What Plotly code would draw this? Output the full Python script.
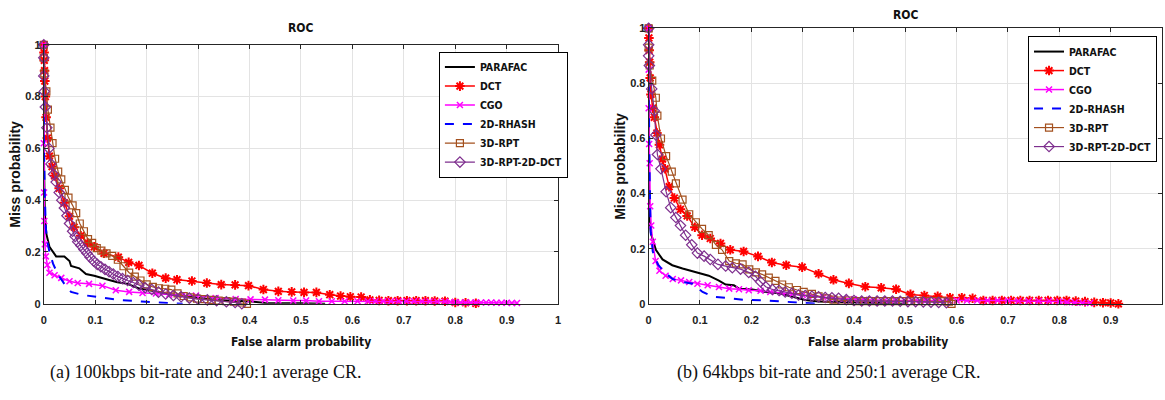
import plotly.graph_objects as go

# ---------------- data: panel (a) ----------------
a_parafac_x = [0, 0, 0.002, 0.005, 0.011, 0.024, 0.04, 0.05, 0.053, 0.069, 0.082, 0.098, 0.127, 0.143, 0.163, 0.185, 0.211, 0.243, 0.282, 0.334, 0.405, 0.43, 0.5, 0.547]
a_parafac_y = [1, 0.6, 0.35, 0.27, 0.22, 0.183, 0.183, 0.165, 0.146, 0.137, 0.115, 0.108, 0.092, 0.083, 0.077, 0.059, 0.05, 0.037, 0.027, 0.015, 0.009, 0.003, 0.002, 0]

a_dct_x = [0, 0.0005, 0.001, 0.0015, 0.002, 0.003, 0.0045, 0.007, 0.011, 0.016, 0.021, 0.030, 0.040, 0.050, 0.059, 0.072, 0.085, 0.098, 0.117, 0.145, 0.165, 0.185, 0.211, 0.237, 0.259, 0.288, 0.317, 0.345, 0.372, 0.398, 0.427, 0.456, 0.482, 0.506, 0.53, 0.556, 0.577, 0.596, 0.617, 0.634, 0.652, 0.67, 0.688, 0.706, 0.724, 0.742, 0.76, 0.78, 0.80, 0.82, 0.84]
a_dct_y = [1, 0.97, 0.94, 0.9, 0.86, 0.8, 0.72, 0.64, 0.57, 0.53, 0.494, 0.446, 0.39, 0.338, 0.296, 0.263, 0.235, 0.22, 0.195, 0.18, 0.16, 0.148, 0.118, 0.099, 0.093, 0.088, 0.08, 0.074, 0.073, 0.07, 0.055, 0.048, 0.046, 0.044, 0.044, 0.035, 0.03, 0.027, 0.026, 0.015, 0.013, 0.012, 0.012, 0.012, 0.012, 0.012, 0.011, 0.01, 0.005, 0.004, 0.002]

a_cgo_x = [0, 0, 0.0005, 0.001, 0.002, 0.004, 0.007, 0.011, 0.021, 0.034, 0.05, 0.066, 0.088, 0.114, 0.14, 0.166, 0.192, 0.218, 0.244, 0.27, 0.296, 0.334, 0.373, 0.402, 0.43, 0.456, 0.485, 0.51, 0.535, 0.56, 0.585, 0.61, 0.63, 0.645, 0.66, 0.675, 0.69, 0.705, 0.72, 0.735, 0.75, 0.765, 0.78, 0.79, 0.80, 0.81, 0.82, 0.83, 0.84, 0.85, 0.86, 0.87, 0.88, 0.89, 0.90, 0.91, 0.92]
a_cgo_y = [1, 0.62, 0.43, 0.32, 0.23, 0.183, 0.15, 0.12, 0.11, 0.10, 0.087, 0.08, 0.077, 0.07, 0.052, 0.046, 0.042, 0.04, 0.036, 0.033, 0.032, 0.022, 0.018, 0.017, 0.016, 0.014, 0.013, 0.013, 0.01, 0.01, 0.01, 0.01, 0.01, 0.01, 0.01, 0.01, 0.01, 0.01, 0.01, 0.009, 0.009, 0.008, 0.008, 0.007, 0.006, 0.005, 0.005, 0.005, 0.005, 0.005, 0.005, 0.005, 0.004, 0.004, 0.004, 0.003, 0.003]

a_rhash_x = [0, 0, 0.002, 0.004, 0.007, 0.011, 0.018, 0.027, 0.04, 0.053, 0.075, 0.1, 0.146, 0.19, 0.23, 0.25, 0.27]
a_rhash_y = [1, 0.65, 0.42, 0.29, 0.24, 0.2, 0.155, 0.115, 0.077, 0.046, 0.034, 0.027, 0.015, 0.009, 0.005, 0.002, 0]

a_rpt_x = [0, 0, 0.001, 0.005, 0.008, 0.013, 0.017, 0.022, 0.028, 0.034, 0.041, 0.048, 0.056, 0.063, 0.07, 0.078, 0.086, 0.094, 0.103, 0.112, 0.122, 0.133, 0.144, 0.155, 0.166, 0.177, 0.188, 0.2, 0.212, 0.224, 0.236, 0.248, 0.26, 0.272, 0.285, 0.298, 0.312, 0.326, 0.34, 0.355, 0.37, 0.385, 0.395]
a_rpt_y = [1, 0.95, 0.89, 0.82, 0.75, 0.68, 0.62, 0.56, 0.51, 0.48, 0.44, 0.41, 0.38, 0.35, 0.31, 0.28, 0.25, 0.235, 0.215, 0.205, 0.195, 0.185, 0.17, 0.145, 0.12, 0.105, 0.09, 0.075, 0.065, 0.06, 0.058, 0.055, 0.04, 0.03, 0.025, 0.02, 0.018, 0.015, 0.012, 0.01, 0.008, 0.005, 0.0]

a_rptdct_x = [0, 0, 0, 0.001, 0.003, 0.006, 0.01, 0.014, 0.019, 0.024, 0.03, 0.035, 0.04, 0.045, 0.05, 0.056, 0.061, 0.066, 0.072, 0.078, 0.084, 0.09, 0.097, 0.104, 0.111, 0.119, 0.127, 0.135, 0.144, 0.153, 0.163, 0.174, 0.185, 0.197, 0.21, 0.223, 0.237, 0.252, 0.267, 0.283, 0.3, 0.318, 0.336, 0.355, 0.372, 0.385]
a_rptdct_y = [1, 0.95, 0.88, 0.82, 0.76, 0.68, 0.6, 0.54, 0.5, 0.47, 0.43, 0.4, 0.37, 0.34, 0.31, 0.28, 0.26, 0.24, 0.225, 0.21, 0.195, 0.18, 0.165, 0.152, 0.143, 0.133, 0.124, 0.115, 0.105, 0.097, 0.09, 0.082, 0.072, 0.062, 0.055, 0.045, 0.038, 0.032, 0.027, 0.022, 0.018, 0.015, 0.012, 0.008, 0.005, 0.0]

# ---------------- data: panel (b) ----------------
b_parafac_x = [0, 0, 0.001, 0.0045, 0.014, 0.027, 0.046, 0.066, 0.092, 0.117, 0.136, 0.15, 0.166, 0.176, 0.202, 0.228, 0.254, 0.28, 0.305, 0.331, 0.38, 0.43, 0.5]
b_parafac_y = [1, 0.6, 0.32, 0.255, 0.196, 0.161, 0.14, 0.128, 0.114, 0.102, 0.085, 0.07, 0.067, 0.055, 0.052, 0.043, 0.038, 0.026, 0.014, 0.008, 0.005, 0.003, 0]

b_dct_x = [0, 0.0005, 0.001, 0.002, 0.003, 0.0045, 0.008, 0.011, 0.016, 0.021, 0.027, 0.032, 0.04, 0.05, 0.062, 0.075, 0.09, 0.104, 0.12, 0.14, 0.159, 0.185, 0.213, 0.24, 0.268, 0.299, 0.331, 0.36, 0.39, 0.422, 0.453, 0.482, 0.51, 0.537, 0.563, 0.587, 0.61, 0.631, 0.652, 0.67, 0.688, 0.706, 0.724, 0.742, 0.76, 0.778, 0.796, 0.814, 0.832, 0.85, 0.868, 0.885, 0.9, 0.915]
b_dct_y = [1, 0.965, 0.92, 0.877, 0.82, 0.76, 0.71, 0.677, 0.62, 0.577, 0.525, 0.49, 0.425, 0.384, 0.343, 0.319, 0.278, 0.249, 0.237, 0.219, 0.196, 0.19, 0.172, 0.15, 0.14, 0.133, 0.109, 0.087, 0.074, 0.062, 0.058, 0.053, 0.034, 0.03, 0.027, 0.022, 0.022, 0.02, 0.012, 0.012, 0.012, 0.012, 0.012, 0.012, 0.012, 0.012, 0.012, 0.012, 0.01, 0.008, 0.005, 0.004, 0.003, 0.0]

b_cgo_x = [0, 0, 0, 0.001, 0.002, 0.003, 0.005, 0.008, 0.0135, 0.021, 0.033, 0.047, 0.063, 0.079, 0.095, 0.115, 0.137, 0.157, 0.176, 0.195, 0.218, 0.237, 0.26, 0.28, 0.3, 0.32, 0.34, 0.36, 0.38, 0.4, 0.42, 0.44, 0.46, 0.48, 0.5, 0.52, 0.54, 0.56, 0.58, 0.6, 0.62, 0.64, 0.66, 0.68, 0.70, 0.72, 0.74, 0.76, 0.78, 0.8, 0.815, 0.83, 0.845, 0.86]
b_cgo_y = [1, 0.85, 0.71, 0.58, 0.51, 0.354, 0.284, 0.225, 0.155, 0.12, 0.102, 0.09, 0.085, 0.079, 0.073, 0.067, 0.061, 0.055, 0.053, 0.049, 0.047, 0.043, 0.04, 0.036, 0.032, 0.028, 0.024, 0.02, 0.018, 0.016, 0.015, 0.014, 0.013, 0.013, 0.012, 0.012, 0.012, 0.012, 0.012, 0.012, 0.012, 0.012, 0.012, 0.012, 0.012, 0.01, 0.01, 0.01, 0.01, 0.008, 0.006, 0.005, 0.004, 0.003]

b_rhash_x = [0, 0, 0.002, 0.004, 0.008, 0.018, 0.031, 0.047, 0.066, 0.086, 0.105, 0.125, 0.157, 0.189, 0.228, 0.266, 0.299, 0.33]
b_rhash_y = [1, 0.8, 0.45, 0.26, 0.19, 0.143, 0.114, 0.09, 0.079, 0.073, 0.043, 0.026, 0.02, 0.014, 0.012, 0.008, 0.002, 0]

b_rpt_x = [0, 0, 0.002, 0.007, 0.014, 0.017, 0.024, 0.034, 0.045, 0.053, 0.066, 0.079, 0.092, 0.104, 0.117, 0.131, 0.143, 0.157, 0.17, 0.183, 0.196, 0.209, 0.221, 0.234, 0.247, 0.26, 0.273, 0.289, 0.302, 0.318, 0.331, 0.347, 0.36, 0.375, 0.39, 0.405, 0.42, 0.435, 0.45, 0.465, 0.48, 0.495, 0.51, 0.525, 0.54, 0.555, 0.57, 0.585, 0.59]
b_rpt_y = [1, 0.93, 0.865, 0.81, 0.748, 0.683, 0.6, 0.536, 0.48, 0.437, 0.378, 0.325, 0.296, 0.272, 0.249, 0.214, 0.196, 0.155, 0.147, 0.143, 0.125, 0.114, 0.107, 0.095, 0.083, 0.07, 0.06, 0.05, 0.043, 0.036, 0.027, 0.02, 0.015, 0.012, 0.012, 0.01, 0.01, 0.01, 0.01, 0.01, 0.01, 0.01, 0.01, 0.01, 0.01, 0.01, 0.01, 0.008, 0.0]

b_rptdct_x = [0, 0, 0, 0.0013, 0.006, 0.011, 0.014, 0.017, 0.024, 0.034, 0.043, 0.053, 0.062, 0.072, 0.084, 0.095, 0.108, 0.12, 0.135, 0.15, 0.163, 0.179, 0.195, 0.208, 0.218, 0.228, 0.241, 0.254, 0.266, 0.279, 0.292, 0.305, 0.318, 0.331, 0.344, 0.357, 0.37, 0.385, 0.4, 0.415, 0.43, 0.445, 0.46, 0.475, 0.49, 0.505, 0.52, 0.535, 0.55, 0.565, 0.58]
b_rptdct_y = [1, 0.94, 0.9, 0.865, 0.78, 0.70, 0.613, 0.542, 0.49, 0.407, 0.349, 0.313, 0.284, 0.249, 0.214, 0.184, 0.173, 0.161, 0.143, 0.137, 0.131, 0.126, 0.114, 0.1, 0.08, 0.062, 0.052, 0.048, 0.043, 0.038, 0.032, 0.03, 0.027, 0.025, 0.023, 0.022, 0.02, 0.015, 0.012, 0.01, 0.01, 0.01, 0.01, 0.01, 0.009, 0.008, 0.008, 0.007, 0.006, 0.005, 0.004]

series_names = ["PARAFAC", "DCT", "CGO", "2D-RHASH", "3D-RPT", "3D-RPT-2D-DCT"]
tick_x = [0, 0.1, 0.2, 0.3, 0.4, 0.5, 0.6, 0.7, 0.8, 0.9, 1]
tick_y = [0, 0.2, 0.4, 0.6, 0.8, 1]
title_text = "ROC"
xlabel_text = "False alarm probability"
ylabel_text = "Miss probability"
caption_a = "(a) 100kbps bit-rate and 240:1 average CR."
caption_b = "(b) 64kbps bit-rate and 250:1 average CR."

# ---------------- styles ----------------
NARROW = "DejaVu Sans Condensed, Liberation Sans Narrow, Arial Narrow, Liberation Sans, Arial, sans-serif"
WIDE = "Liberation Sans, Arial, sans-serif"
SERIF = "Liberation Serif, Times New Roman, serif"

styles = [
    dict(mode="lines", line=dict(color="#000000", width=2)),
    dict(mode="lines+markers", line=dict(color="#FF0000", width=1.5),
         marker=dict(symbol="asterisk-open", size=8, color="#FF0000", line=dict(color="#FF0000", width=2))),
    dict(mode="lines+markers", line=dict(color="#FF00FF", width=1.5),
         marker=dict(symbol="x-thin-open", size=6, color="#FF00FF", line=dict(color="#FF00FF", width=1.5))),
    dict(mode="lines", line=dict(color="#0000FF", width=2, dash="dash")),
    dict(mode="lines+markers", line=dict(color="#A3501E", width=1.2),
         marker=dict(symbol="square-open", size=7, color="#A3501E", line=dict(color="#A3501E", width=1.2))),
    dict(mode="lines+markers", line=dict(color="#7E2F8E", width=1.2),
         marker=dict(symbol="diamond-open", size=8, color="#7E2F8E", line=dict(color="#7E2F8E", width=1.2))),
]

panel_a = [(a_parafac_x, a_parafac_y), (a_dct_x, a_dct_y), (a_cgo_x, a_cgo_y),
           (a_rhash_x, a_rhash_y), (a_rpt_x, a_rpt_y), (a_rptdct_x, a_rptdct_y)]
panel_b = [(b_parafac_x, b_parafac_y), (b_dct_x, b_dct_y), (b_cgo_x, b_cgo_y),
           (b_rhash_x, b_rhash_y), (b_rpt_x, b_rpt_y), (b_rptdct_x, b_rptdct_y)]

fig = go.Figure()
for (xs, ys), name, st in zip(panel_a, series_names, styles):
    fig.add_trace(go.Scatter(x=xs, y=ys, name=name, xaxis="x", yaxis="y",
                             legend="legend", cliponaxis=False, **st))
for (xs, ys), name, st in zip(panel_b, series_names, styles):
    fig.add_trace(go.Scatter(x=xs, y=ys, name=name, xaxis="x2", yaxis="y2",
                             legend="legend2", cliponaxis=False, **st))

W, H = 1165, 400
def px_x(p): return p / W
def px_y(p): return 1 - p / H

tickfont = dict(family=WIDE, size=11, color="#222222", weight="bold")
ax_common = dict(range=[0, 1], showline=True, mirror="ticks", linecolor="#262626", linewidth=1,
                 ticks="inside", ticklen=4, tickcolor="#262626", showgrid=True, gridcolor="#e3e3e3",
                 gridwidth=1, zeroline=False, tickfont=tickfont, fixedrange=True)

legend_font = dict(family=NARROW, size=10.5, color="#111111", weight="bold")
fig.update_layout(
    width=W, height=H, margin=dict(l=0, r=0, t=0, b=0),
    paper_bgcolor="white", plot_bgcolor="white", showlegend=True,
    xaxis=dict(domain=[px_x(41), px_x(558)], anchor="y", tickvals=tick_x, ticklabelstandoff=6, **ax_common),
    yaxis=dict(domain=[px_y(307), px_y(40)], anchor="x", tickvals=tick_y, ticklabelstandoff=0, **ax_common),
    xaxis2=dict(domain=[px_x(649), 1.0], anchor="y2", tickvals=tick_x, ticklabelstandoff=6, **ax_common),
    yaxis2=dict(domain=[px_y(307), px_y(23)], anchor="x2", tickvals=tick_y, ticklabelstandoff=0, **ax_common),
    legend=dict(x=px_x(503), y=px_y(47), xanchor="center", yanchor="top",
                bgcolor="white", bordercolor="#000000", borderwidth=1,
                font=legend_font, itemwidth=30, tracegroupgap=0),
    legend2=dict(x=px_x(1160), y=px_y(31), xanchor="right", yanchor="top",
                 bgcolor="white", bordercolor="#000000", borderwidth=1,
                 font=legend_font, itemwidth=30, tracegroupgap=0),
)

def ann(text, x, y, font, angle=0):
    fig.add_annotation(text=text, x=px_x(x), y=px_y(y), xref="paper", yref="paper",
                       showarrow=False, xanchor="center", yanchor="middle",
                       textangle=angle, font=font)

title_font = dict(family=NARROW, size=12, color="#111111", weight="bold")
label_font = dict(family=NARROW, size=12, color="#111111", weight="bold")
ylabel_font = dict(family=WIDE, size=14, color="#111111", weight="bold")
cap_font = dict(family=SERIF, size=18, color="#111111")

ann(title_text, 299, 23, title_font)
ann(title_text, 907, 9, title_font)
ann(xlabel_text, 300, 346, label_font)
ann(xlabel_text, 880, 346, label_font)
ann(ylabel_text, 12, 173, ylabel_font, -90)
ann(ylabel_text, 620, 165, ylabel_font, -90)
ann(caption_a, 204, 378, cap_font)
ann(caption_b, 830, 378, cap_font)

fig.write_html("out.html")
